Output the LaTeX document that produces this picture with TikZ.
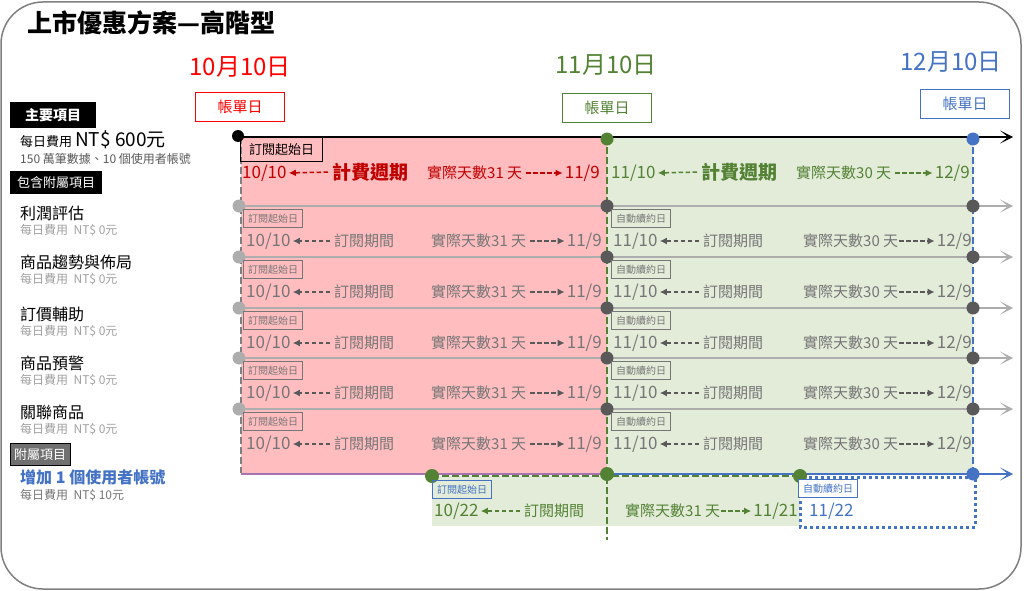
\documentclass[tikz,border=0pt]{standalone}
\usepackage{fontspec}
\setmainfont{Noto Sans CJK TC}
\usetikzlibrary{positioning,arrows.meta}
\definecolor{tred}{HTML}{FF0000}
\definecolor{dred}{HTML}{C00000}
\definecolor{tgreen}{HTML}{548235}
\definecolor{tblue}{HTML}{4472C4}
\definecolor{pinkbg}{HTML}{FFBDC0}
\definecolor{greenbg}{HTML}{E2ECD9}
\definecolor{rowtext}{HTML}{767676}
\definecolor{rowline}{HTML}{ADADAD}
\definecolor{dotdark}{HTML}{595959}
\definecolor{subgray}{HTML}{A0A0A0}
\definecolor{addgray}{HTML}{707070}
\definecolor{mixline}{RGB}{165,115,175}
\newcommand{\fsz}[1]{\fontsize{#1}{#1}\selectfont}
\tikzset{
  dot/.style={circle,fill=#1,inner sep=0pt,minimum size=13pt},
  billbox/.style={draw=#1,text=#1,line width=1pt,minimum width=89pt,minimum height=29pt,inner sep=0pt,font=\fsz{15}},
  tagbox/.style={draw=#1,text=#1,line width=1pt,minimum width=59pt,minimum height=18pt,inner sep=0pt,font=\fsz{10},anchor=north west},
  headbox/.style={fill=#1,text=white,inner sep=0pt,anchor=north west,font=\fsz{14}\bfseries},
  datetxt/.style={text=#1,inner sep=0pt,font=\fsz{17}},
  daytxt/.style={text=#1,inner sep=0pt,font=\fsz{15}},
  cycletxt/.style={text=#1,inner sep=0pt,font=\fsz{19}\bfseries},
  dasharr/.style={draw=#1,line width=1.5pt,dash pattern=on 4.5pt off 2.5pt,shorten <=4pt,shorten >=2pt,-{Latex[length=7pt,width=7pt]}},
  axis/.style={draw=#1,line width=2pt,-{Stealth[length=13pt,width=13pt,inset=8pt]}},
  vdash/.style={draw=#1,line width=2.2pt,dash pattern=on 7pt off 3pt},
}
\begin{document}
\begin{tikzpicture}[x=1pt,y=-1pt,>=latex]
\useasboundingbox (0,0) rectangle (1027,591);
\draw[gray,line width=1.5pt,rounded corners=42pt] (1,2) rectangle (1021,589);
\node[anchor=west,inner sep=0pt,font=\fsz{25}\bfseries] (title) at (27,23) {上市優惠方案—高階型};

\foreach \c/\x/\y/\m/\bx/\by in {tred/240/67/10/240/107,tgreen/606/65/11/607/108,tblue/951/62/12/965/104}{
  \node[text=\c,inner sep=0pt,font=\fsz{24}] (day\m) at (\x,\y) {\m{}月10日};
  \node[billbox=\c] (bill\m) at (\bx,\by) {帳單日};
}

\fill[pinkbg] (241,137) rectangle (607,473);
\fill[greenbg] (607,137) rectangle (973,473);
\fill[greenbg] (432,476) rectangle (800,526);
\draw[tblue,line width=3pt,dash pattern=on 3pt off 3pt] (800,477) rectangle (975,527);

\coordinate (ot) at (241,137); \coordinate (ob) at (241,473);
\coordinate (gt) at (607,137); \coordinate (gb) at (607,540);
\coordinate (bt) at (973,137); \coordinate (bb) at (973,474);
\draw[vdash=gray] (ot) -- (ob);
\draw[vdash=tgreen] (gt) -- (gb);
\draw[vdash=tblue] (bt) -- (bb);

\coordinate (start) at (238,137); \coordinate (tip) at (1013,137);
\draw[axis=black] (start) -- (tip);
\node[dot=black,minimum size=12pt] (d0) at (238,136) {};
\node[dot=tgreen] (g0) at (607,139) {};
\node[dot=tblue] (b0) at (973,139) {};

\foreach \ly [count=\i] in {206,257,308,358,409}{
  \coordinate (rs\i) at (241,\ly);
  \coordinate (re\i) at (1013,\ly);
  \draw[axis=rowline] (rs\i) -- (re\i);
  \node[dot=rowline] (ds\i) at (239,\ly) {};
  \node[dot=dotdark] (dm\i) at (607,\ly) {};
  \node[dot=dotdark] (de\i) at (973,\ly) {};
  \node[tagbox=rowtext] (sub\i) at (243,{\ly+3}) {訂閱起始日};
  \node[datetxt=rowtext,anchor=west] (fa\i) at (246,{\ly+35}) {10/10};
  \node[daytxt=rowtext,anchor=west] (pa\i) at (334,{\ly+35}) {訂閱期間};
  \node[daytxt=rowtext,anchor=west] (na\i) at (431,{\ly+35}) {實際天數31 天};
  \node[datetxt=rowtext,anchor=east] (ta\i) at (602,{\ly+35}) {11/9};
  \draw[dasharr=dotdark] (pa\i.west) -- (fa\i.east);
  \draw[dasharr=dotdark] (na\i.east) -- (ta\i.west);
  \node[tagbox=rowtext] (ren\i) at (611,{\ly+3}) {自動續約日};
  \node[datetxt=rowtext,anchor=west] (fb\i) at (613,{\ly+35}) {11/10};
  \node[daytxt=rowtext,anchor=west] (pb\i) at (703,{\ly+35}) {訂閱期間};
  \node[daytxt=rowtext,anchor=west] (nb\i) at (803,{\ly+35}) {實際天數30 天};
  \node[datetxt=rowtext,anchor=east] (tb\i) at (972,{\ly+35}) {12/9};
  \draw[dasharr=dotdark] (pb\i.west) -- (fb\i.east);
  \draw[dasharr=dotdark,shorten <=1pt] (nb\i.east) -- (tb\i.west);
}

\coordinate (ls) at (241,474); \coordinate (lm) at (607,474); \coordinate (le) at (1013,474);
\coordinate (ns) at (432,476); \coordinate (ne) at (800,476);
\draw[mixline,line width=2pt] (ls) -- (lm);
\draw[axis=tblue] (lm) -- (le);
\draw[vdash=tgreen] (ns) -- (ne);
\node[dot=tgreen,minimum size=14pt] (n1) at (ns) {};
\node[dot=tgreen,minimum size=14pt] (n2) at (lm) {};
\node[dot=tgreen,minimum size=14pt] (n3) at (ne) {};
\node[dot=tblue] (n4) at (bb) {};

\node[tagbox=black,font=\fsz{13},minimum width=82pt,minimum height=24pt] (mstart) at (240,137) {訂閱起始日};
\node[datetxt=dred,anchor=west] (mfrom) at (242,173) {10/10};
\node[cycletxt=dred,anchor=west] (mcycle) at (332,172) {計費週期};
\node[daytxt=dred,anchor=west] (mdays) at (427,173) {實際天數31 天};
\node[datetxt=dred,anchor=east] (mto) at (600,173) {11/9};
\draw[dasharr=dred] (mcycle.west) -- (mfrom.east);
\draw[dasharr=dred] (mdays.east) -- (mto.west);
\node[datetxt=tgreen,anchor=west] (gfrom) at (611,173) {11/10};
\node[cycletxt=tgreen,anchor=west] (gcycle) at (701,172) {計費週期};
\node[daytxt=tgreen,anchor=west] (gdays) at (796,173) {實際天數30 天};
\node[datetxt=tgreen,anchor=east] (gto) at (970,173) {12/9};
\draw[dasharr=tgreen] (gcycle.west) -- (gfrom.east);
\draw[dasharr=tgreen] (gdays.east) -- (gto.west);

\node[tagbox=tblue] (ustart) at (432,480) {訂閱起始日};
\node[datetxt=tgreen,anchor=west] (ufrom) at (434,511) {10/22};
\node[daytxt=tgreen,anchor=west] (uper) at (524,511) {訂閱期間};
\node[daytxt=tgreen,anchor=west] (udays) at (625,511) {實際天數31 天};
\node[datetxt=tgreen,anchor=east] (uto) at (798,511) {11/21};
\draw[dasharr=tgreen] (uper.west) -- (ufrom.east);
\draw[dasharr=tgreen,shorten <=1pt] (udays.east) -- (uto.west);
\node[tagbox=tblue,fill=white] (uren) at (798,479) {自動續約日};
\node[datetxt=tblue,anchor=west] (unext) at (809,511) {11/22};

\node[headbox=black,minimum width=86pt,minimum height=26pt] (mainhd) at (10,102) {主要項目};
\node[anchor=west,inner sep=0pt] (fee) at (20,140) {\fsz{13}每日費用 \fsz{19}NT\$ 600元};
\node[anchor=west,inner sep=0pt,text=dotdark,font=\fsz{12}] (quota) at (20,159) {150 萬筆數據、10 個使用者帳號};
\node[headbox=black,minimum width=92pt,minimum height=23pt,font=\fsz{13}] (inclhd) at (10,171) {包含附屬項目};
\foreach \iname/\y [count=\k] in {利潤評估/213,商品趨勢與佈局/262,訂價輔助/314,商品預警/363,關聯商品/412}{
  \node[anchor=west,inner sep=0pt,font=\fsz{16}] (item\k) at (20,\y) {\iname};
  \node[anchor=west,inner sep=0pt,font=\fsz{12},text=subgray] (cost\k) at (20,{\y+17}) {每日費用\ \ NT\$ 0元};
}
\node[headbox=addgray,draw=black,minimum width=60pt,minimum height=22pt,font=\fsz{13}] (addhd) at (10,443) {附屬項目};
\node[anchor=west,inner sep=0pt,font=\fsz{16}\bfseries,text=tblue] (user) at (20,477) {增加 1 個使用者帳號};
\node[anchor=west,inner sep=0pt,font=\fsz{12},text=rowtext] (usercost) at (20,495) {每日費用\ \ NT\$ 10元};
\end{tikzpicture}
\end{document}
